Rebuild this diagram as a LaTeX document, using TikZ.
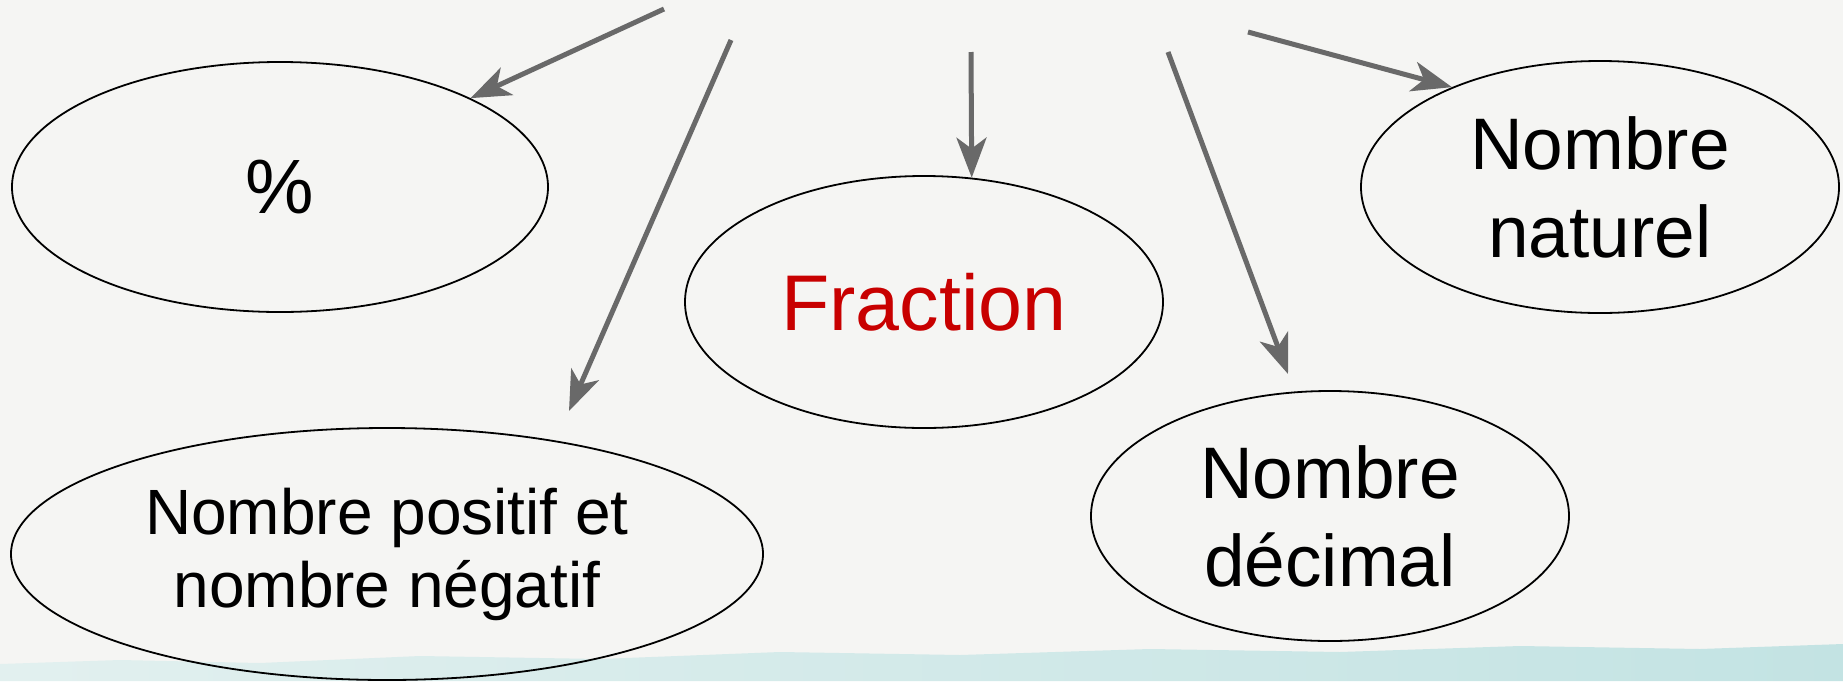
\documentclass[tikz,border=0pt]{standalone}
\usepackage{fontspec}
\setmainfont{Liberation Sans}
\usetikzlibrary{arrows.meta,shapes.geometric}
\definecolor{pil-gris}{HTML}{696969}
\definecolor{fraction-rouge}{HTML}{C80000}
\definecolor{papier}{HTML}{F5F5F3}
\definecolor{bande-clair}{HTML}{E2F0EF}
\definecolor{bande-fonce}{HTML}{C3E3E3}

\begin{document}
\begin{tikzpicture}[x=0.5pt,y=-0.5pt,>=Stealth,
  bulle/.style={draw,ellipse,line width=0.9pt,inner sep=0pt,align=center,
    font=\fontsize{36.5}{44}\selectfont},
  fleche/.style={line width=2.5pt,pil-gris,-{Stealth[length=20pt,width=15pt,inset=5.5pt]}}]
  % Fond
  \fill[papier] (0,0) rectangle (1843,681);
  \useasboundingbox (0,0) rectangle (1843,681);
  \shade[left color=bande-clair,right color=bande-fonce]
    (0,681) -- (0,664) -- (120,660) -- (260,663) -- (420,656) -- (600,659)
    -- (780,652) -- (960,655) -- (1150,649) -- (1340,652) -- (1520,646)
    -- (1700,649) -- (1843,644) -- (1843,681) -- cycle;

  % Bulles
  \node[bulle,minimum width=268pt,minimum height=125pt,
    font=\fontsize{38.5}{46}\selectfont] (pct) at (280,187) {\%};
  \node[bulle,minimum width=239pt,minimum height=126pt,text=fraction-rouge,
    font=\fontsize{39.5}{46}\selectfont] (frac) at (924,302) {Fraction};
  \node[bulle,minimum width=239pt,minimum height=126pt] (nat) at (1600,187) {Nombre\\naturel};
  \node[bulle,minimum width=376pt,minimum height=126pt,
    font=\fontsize{32}{36.5}\selectfont] (posneg) at (387,554) {Nombre positif et\\nombre négatif};
  \node[bulle,minimum width=239pt,minimum height=125pt] (dec) at (1330,516) {Nombre\\décimal};

  % Départs et bouts libres des flèches
  \coordinate (d1) at (664,9);
  \coordinate (d2) at (731,40);
  \coordinate (d3) at (971,52);
  \coordinate (d4) at (1168,52);
  \coordinate (d5) at (1248,32);
  \coordinate (f2) at (569,411);
  \coordinate (f4) at (1288,374);

  % Flèches
  \draw[fleche] (d1) -- (pct.25);
  \draw[fleche] (d2) -- (f2);
  \draw[fleche] (d3) -- (frac.69);
  \draw[fleche] (d4) -- (f4);
  \draw[fleche] (d5) -- (nat.146);
\end{tikzpicture}
\end{document}
